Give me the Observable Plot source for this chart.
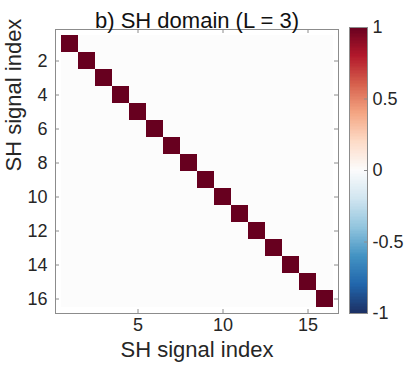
<!DOCTYPE html>
<html>
<head>
<meta charset="utf-8">
<script src="https://cdn.jsdelivr.net/npm/d3@7"></script>
<script src="https://cdn.jsdelivr.net/npm/@observablehq/plot@0.6"></script>
<style>
  html, body { margin: 0; padding: 0; background: #ffffff; }
  #wrap { position: relative; width: 407px; height: 367px; overflow: hidden; }
  #wrap svg { position: absolute; top: 0; left: 0; }
</style>
</head>
<body>
<div id="wrap"></div>
<script>
// ---- data ----
const titleText = "b) SH domain (L = 3)";
const xLabelText = "SH signal index";
const yLabelText = "SH signal index";

const rowIndex = [1, 2, 3, 4, 5, 6, 7, 8, 9, 10, 11, 12, 13, 14, 15, 16];
const colIndex = [1, 2, 3, 4, 5, 6, 7, 8, 9, 10, 11, 12, 13, 14, 15, 16];

const matrix = [
  [1,0,0,0,0,0,0,0,0,0,0,0,0,0,0,0],
  [0,1,0,0,0,0,0,0,0,0,0,0,0,0,0,0],
  [0,0,1,0,0,0,0,0,0,0,0,0,0,0,0,0],
  [0,0,0,1,0,0,0,0,0,0,0,0,0,0,0,0],
  [0,0,0,0,1,0,0,0,0,0,0,0,0,0,0,0],
  [0,0,0,0,0,1,0,0,0,0,0,0,0,0,0,0],
  [0,0,0,0,0,0,1,0,0,0,0,0,0,0,0,0],
  [0,0,0,0,0,0,0,1,0,0,0,0,0,0,0,0],
  [0,0,0,0,0,0,0,0,1,0,0,0,0,0,0,0],
  [0,0,0,0,0,0,0,0,0,1,0,0,0,0,0,0],
  [0,0,0,0,0,0,0,0,0,0,1,0,0,0,0,0],
  [0,0,0,0,0,0,0,0,0,0,0,1,0,0,0,0],
  [0,0,0,0,0,0,0,0,0,0,0,0,1,0,0,0],
  [0,0,0,0,0,0,0,0,0,0,0,0,0,1,0,0],
  [0,0,0,0,0,0,0,0,0,0,0,0,0,0,1,0],
  [0,0,0,0,0,0,0,0,0,0,0,0,0,0,0,1]
];

const xTicks = [5, 10, 15];
const yTicks = [2, 4, 6, 8, 10, 12, 14, 16];
const colorbarTicks = [-1, -0.5, 0, 0.5, 1];
const colorbarDomain = [-1, 1];

// diverging colormap (RdBu, red = +1)
const colorStops = [-1, -0.8, -0.6, -0.4, -0.2, 0, 0.2, 0.4, 0.6, 0.8, 1];
const colorRange = ["#1c2f63", "#2166ac", "#4393c3", "#92c5de", "#d1e5f0", "#fcfcfc",
                    "#fddbc7", "#f4a582", "#d6604d", "#b2182b", "#67001f"];

// ---- build ----
const cells = [];
rowIndex.forEach((r, i) => colIndex.forEach((c, j) => cells.push({row: r, col: c, value: matrix[i][j]})));

const W = 407, H = 367;
const font = "'Liberation Sans', Arial, Helvetica, sans-serif";
const axisGray = "#8c8c8c";
const textColor = "#262626";
const colorOpts = {type: "linear", domain: colorStops, range: colorRange, clamp: true};

const mT = 29, mB = 54, mL = 55, mR = 69;
const innerH = H - mT - mB;
const innerW = W - mL - mR;
const tickLen = 4;

const main = Plot.plot({
  width: W, height: H,
  marginTop: mT, marginBottom: mB, marginLeft: mL, marginRight: mR,
  style: {fontFamily: font, background: "transparent", color: textColor},
  x: {type: "band", domain: colIndex, padding: 0, axis: null},
  y: {type: "band", domain: rowIndex, padding: 0, axis: null},
  color: colorOpts,
  marks: [
    Plot.cell(cells, {x: "col", y: "row", fill: "value", inset: 0, shapeRendering: "crispEdges"}),
    // inward ticks on all four sides
    Plot.tickX(xTicks, {x: d => d, stroke: axisGray, insetTop: innerH - tickLen}),
    Plot.tickX(xTicks, {x: d => d, stroke: axisGray, insetBottom: innerH - tickLen}),
    Plot.tickY(yTicks, {y: d => d, stroke: axisGray, insetRight: innerW - tickLen}),
    Plot.tickY(yTicks, {y: d => d, stroke: axisGray, insetLeft: innerW - tickLen}),
    Plot.frame({stroke: axisGray, strokeWidth: 1}),
    Plot.axisX(xTicks, {anchor: "bottom", tickSize: 0, tickPadding: 5, fontSize: 18, label: null, fill: textColor}),
    Plot.axisY(yTicks, {anchor: "left", tickSize: 0, tickPadding: 8, fontSize: 18, label: null, fill: textColor}),
    Plot.text([xLabelText], {text: d => d, frameAnchor: "bottom", dy: 43, fontSize: 22, fill: textColor}),
    Plot.text([yLabelText], {text: d => d, frameAnchor: "left", rotate: -90, dx: -42, fontSize: 22, fill: textColor}),
    Plot.text([titleText], {text: d => d, frameAnchor: "top", dy: -17, fontSize: 22, fill: "#111111"})
  ]
});

// colorbar
const cbTop = 27, cbBottom = 54, cbLeft = 349, cbRight = W - 367;
const cbSteps = d3.range(-1, 1, 0.01);
const cbW = W - cbLeft - cbRight;
const colorbar = Plot.plot({
  width: W, height: H,
  marginTop: cbTop, marginBottom: cbBottom, marginLeft: cbLeft, marginRight: cbRight,
  style: {fontFamily: font, background: "transparent", color: textColor},
  x: {domain: [0, 1], axis: null},
  y: {domain: colorbarDomain, axis: null},
  color: colorOpts,
  marks: [
    Plot.rect(cbSteps, {x1: 0, x2: 1, y1: d => d, y2: d => d + 0.01, fill: d => d + 0.005, shapeRendering: "crispEdges"}),
    Plot.tickY(colorbarTicks, {y: d => d, stroke: axisGray, insetLeft: cbW - 3}),
    Plot.frame({stroke: axisGray, strokeWidth: 1}),
    Plot.axisY(colorbarTicks, {anchor: "right", tickSize: 0, tickPadding: 5, fontSize: 18, label: null, fill: textColor, tickFormat: d => String(d)})
  ]
});

const wrap = document.getElementById("wrap");
wrap.appendChild(main);
wrap.appendChild(colorbar);
</script>
</body>
</html>
